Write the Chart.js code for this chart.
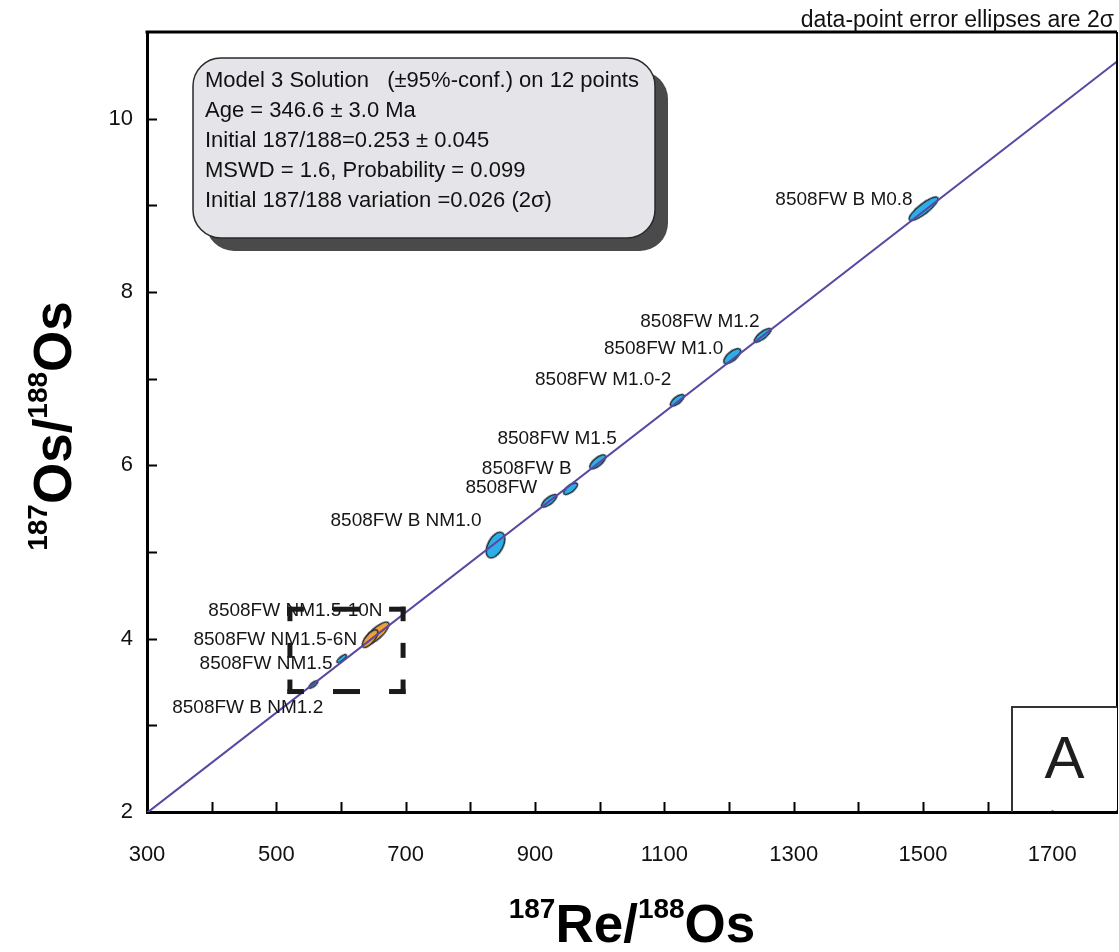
<!DOCTYPE html>
<html><head><meta charset="utf-8">
<script src="https://cdn.jsdelivr.net/npm/chart.js@4.4.1/dist/chart.umd.min.js"></script>
<style>html,body{margin:0;padding:0;background:#fff;} #c{display:block;}</style>
</head><body>
<canvas id="c" width="1119" height="952" style="width:1119px;height:952px"></canvas>
<script>
// ---------------- DATA ----------------
const sampleNames = [
  '8508FW B M0.8', '8508FW M1.2', '8508FW M1.0', '8508FW M1.0-2',
  '8508FW M1.5', '8508FW B', '8508FW', '8508FW B NM1.0',
  '8508FW NM1.5-10N', '8508FW NM1.5-6N', '8508FW NM1.5', '8508FW B NM1.2'
];
const reOs = [1501, 1252, 1205, 1120, 997, 955, 922, 839, 655, 645, 601, 557];   // 187Re/188Os
const osOs = [8.96, 7.50, 7.26, 6.75, 6.04, 5.73, 5.59, 5.08, 4.06, 4.00, 3.77, 3.47]; // 187Os/188Os
const fitRe = [300, 1800];
const fitOs = [1.99, 10.66];
const xTickLabels = [300, 500, 700, 900, 1100, 1300, 1500, 1700];
const yTickLabels = [2, 4, 6, 8, 10];
const zoomBoxRe = [521, 696];
const zoomBoxOs = [3.39, 4.34];
const infoLines = [
  'Model 3 Solution   (\u00b195%-conf.) on 12 points',
  'Age = 346.6 \u00b1 3.0 Ma',
  'Initial 187/188=0.253 \u00b1 0.045',
  'MSWD = 1.6, Probability = 0.099',
  'Initial 187/188 variation =0.026 (2\u03c3)'
];
const noteText = 'data-point error ellipses are 2\u03c3';
const panelLetter = 'A';

// ---------------- STYLE ----------------
const FONT = "'Liberation Sans', Arial, Helvetica, sans-serif";
const CYAN = '#2eaee6', ORANGE = '#f0a03a';
// [length px, width px, angle deg, colour]
const ellipseStyle = [
  [36, 10, -38, CYAN], [21, 7, -38, CYAN], [21, 9, -40, CYAN], [17, 7, -38, CYAN],
  [20, 8, -40, CYAN], [17, 7, -38, CYAN], [19, 7, -38, CYAN], [28, 15, -62, CYAN],
  [32, 11, -42, ORANGE], [22, 9, -50, ORANGE], [12, 4, -38, CYAN], [11, 4, -38, CYAN]
];
// label right edge / vertical centre offset from the ellipse centre (px)
const labelOffsets = [
  [-11, -9], [-3, -14], [-9, -7], [-6, -21],
  [19, -23], [1, -20], [-12, -13], [-14, -24],
  [6, -23], [-13, 1], [-9, 5], [10, 23]
];

function makeEllipse(len, wid, color) {
  const c = document.createElement('canvas');
  c.width = len + 4; c.height = wid + 4;
  const g = c.getContext('2d');
  g.beginPath();
  g.ellipse(c.width / 2, c.height / 2, len / 2, wid / 2, 0, 0, Math.PI * 2);
  g.fillStyle = color; g.fill();
  g.lineWidth = 1.3; g.strokeStyle = '#15202b'; g.stroke();
  return c;
}
const pointImgs = ellipseStyle.map(s => makeEllipse(s[0], s[1], s[3]));
const pointRot = ellipseStyle.map(s => s[2]);

function rrect(ctx, x, y, w, h, r) {
  ctx.beginPath();
  ctx.moveTo(x + r, y);
  ctx.arcTo(x + w, y, x + w, y + h, r);
  ctx.arcTo(x + w, y + h, x, y + h, r);
  ctx.arcTo(x, y + h, x, y, r);
  ctx.arcTo(x, y, x + w, y, r);
  ctx.closePath();
}

const decor = {
  id: 'decor',
  afterDatasetsDraw(chart) {
    const {ctx, chartArea: a, scales: {x, y}} = chart;
    ctx.save();
    // inward ticks
    ctx.strokeStyle = '#000'; ctx.lineWidth = 2;
    x.ticks.forEach(t => {
      if (t.value <= x.min || t.value >= x.max) return;
      const px = Math.round(x.getPixelForValue(t.value)) + 0.5;
      ctx.beginPath(); ctx.moveTo(px, a.bottom); ctx.lineTo(px, a.bottom - 10); ctx.stroke();
    });
    y.ticks.forEach(t => {
      if (t.value <= y.min || t.value >= y.max) return;
      const py = Math.round(y.getPixelForValue(t.value)) + 0.5;
      ctx.beginPath(); ctx.moveTo(a.left, py); ctx.lineTo(a.left + 10, py); ctx.stroke();
    });
    // top & right frame
    ctx.lineWidth = 3;
    ctx.beginPath(); ctx.moveTo(a.left - 1.5, a.top); ctx.lineTo(a.right, a.top); ctx.stroke();
    ctx.lineWidth = 2;
    ctx.beginPath(); ctx.moveTo(a.right, a.top); ctx.lineTo(a.right, a.bottom); ctx.stroke();

    // sample labels
    const meta = chart.getDatasetMeta(1);
    ctx.font = '19px ' + FONT; ctx.fillStyle = '#161616';
    ctx.textAlign = 'right'; ctx.textBaseline = 'middle';
    meta.data.forEach((pt, i) => {
      const o = labelOffsets[i];
      ctx.fillText(sampleNames[i], pt.x + o[0], pt.y + o[1]);
    });

    // dashed zoom box
    const bx0 = x.getPixelForValue(zoomBoxRe[0]), bx1 = x.getPixelForValue(zoomBoxRe[1]);
    const by0 = y.getPixelForValue(zoomBoxOs[1]), by1 = y.getPixelForValue(zoomBoxOs[0]);
    ctx.strokeStyle = '#1a1a1a'; ctx.lineWidth = 5; ctx.lineCap = 'butt';
    function side(x1, y1, x2, y2, corner, mid) {
      const L = Math.hypot(x2 - x1, y2 - y1), ux = (x2 - x1) / L, uy = (y2 - y1) / L;
      const segs = [[-2.5, corner], [L / 2 - mid / 2, L / 2 + mid / 2], [L - corner, L + 2.5]];
      segs.forEach(s => {
        ctx.beginPath();
        ctx.moveTo(x1 + ux * s[0], y1 + uy * s[0]);
        ctx.lineTo(x1 + ux * s[1], y1 + uy * s[1]);
        ctx.stroke();
      });
    }
    side(bx0, by0, bx1, by0, 14, 27);
    side(bx0, by1, bx1, by1, 14, 27);
    side(bx0, by0, bx0, by1, 12, 15);
    side(bx1, by0, bx1, by1, 12, 15);

    // info box
    const ibx = 193, iby = 58, ibw = 462, ibh = 180;
    rrect(ctx, ibx + 13, iby + 13, ibw, ibh, 28);
    ctx.fillStyle = '#4a4a4a'; ctx.fill();
    rrect(ctx, ibx, iby, ibw, ibh, 28);
    ctx.fillStyle = '#e5e5e9'; ctx.fill();
    ctx.lineWidth = 1.5; ctx.strokeStyle = '#2a2a2a'; ctx.stroke();
    ctx.fillStyle = '#111'; ctx.textAlign = 'left'; ctx.textBaseline = 'middle';
    ctx.font = '22px ' + FONT;
    infoLines.forEach((t, i) => ctx.fillText(t, 205, 81 + i * 30));

    // panel letter box
    const ax0 = 1012, ay0 = 707;
    ctx.fillStyle = '#fff';
    ctx.fillRect(ax0, ay0, a.right - ax0, a.bottom - ay0 - 1.5);
    ctx.strokeStyle = '#333'; ctx.lineWidth = 2;
    ctx.beginPath(); ctx.moveTo(ax0, a.bottom); ctx.lineTo(ax0, ay0); ctx.lineTo(a.right, ay0); ctx.stroke();
    ctx.fillStyle = '#1e1e1e'; ctx.font = '60px ' + FONT; ctx.textAlign = 'center'; ctx.textBaseline = 'middle';
    ctx.fillText(panelLetter, (ax0 + a.right) / 2, ay0 + 54);

    // note top-right
    ctx.font = '23px ' + FONT; ctx.fillStyle = '#111'; ctx.textAlign = 'right'; ctx.textBaseline = 'alphabetic';
    ctx.fillText(noteText, 1114, 27);

    // axis titles with superscripts
    function richWidth(parts) {
      let w = 0;
      parts.forEach(p => { ctx.font = 'bold ' + p[1] + 'px ' + FONT; w += ctx.measureText(p[0]).width; });
      return w;
    }
    function drawRich(parts, cx, base) {
      const w = richWidth(parts);
      let cur = cx - w / 2;
      ctx.textAlign = 'left'; ctx.textBaseline = 'alphabetic'; ctx.fillStyle = '#000';
      parts.forEach(p => {
        ctx.font = 'bold ' + p[1] + 'px ' + FONT;
        ctx.fillText(p[0], cur, base + p[2]);
        cur += ctx.measureText(p[0]).width;
      });
    }
    drawRich([['187', 28, -24], ['Re/', 53, 0], ['188', 28, -24], ['Os', 53, 0]], (a.left + a.right) / 2, 942);
    ctx.save();
    ctx.translate(71, (a.top + a.bottom) / 2 + 4);
    ctx.rotate(-Math.PI / 2);
    drawRich([['187', 28, -24], ['Os/', 53, 0], ['188', 28, -24], ['Os', 53, 0]], 0, 0);
    ctx.restore();
    ctx.restore();
  }
};

new Chart(document.getElementById('c'), {
  type: 'scatter',
  data: {
    datasets: [
      {
        label: 'isochron',
        data: fitRe.map((v, i) => ({x: v, y: fitOs[i]})),
        showLine: true, borderColor: '#5848a2', borderWidth: 2,
        pointRadius: 0, fill: false
      },
      {
        label: 'samples',
        data: reOs.map((v, i) => ({x: v, y: osOs[i]})),
        showLine: false,
        pointStyle: pointImgs, pointRotation: pointRot, pointRadius: 5,
        pointHoverRadius: 5
      }
    ]
  },
  options: {
    responsive: false, animation: false, devicePixelRatio: 1,
    layout: {autoPadding: false, padding: {top: 32, right: 2, left: 0, bottom: 0}},
    plugins: {legend: {display: false}, tooltip: {enabled: false}},
    scales: {
      x: {
        type: 'linear', min: 300, max: 1800,
        grid: {display: false, drawTicks: false},
        border: {display: true, width: 3, color: '#000'},
        ticks: {
          stepSize: 100, padding: 30, color: '#111', font: {family: FONT, size: 22},
          maxRotation: 0, autoSkip: false,
          callback: v => xTickLabels.includes(v) ? String(v) : ''
        },
        afterFit: s => { s.height = 140; s.paddingLeft = 0; s.paddingRight = 0; }
      },
      y: {
        type: 'linear', min: 2, max: 11,
        grid: {display: false, drawTicks: false},
        border: {display: true, width: 3, color: '#000'},
        ticks: {
          stepSize: 1, padding: 14, color: '#111', font: {family: FONT, size: 22},
          autoSkip: false,
          callback: v => yTickLabels.includes(v) ? String(v) : ''
        },
        afterFit: s => { s.width = 147; s.paddingTop = 0; s.paddingBottom = 0; }
      }
    }
  },
  plugins: [decor]
});
</script>
</body></html>
